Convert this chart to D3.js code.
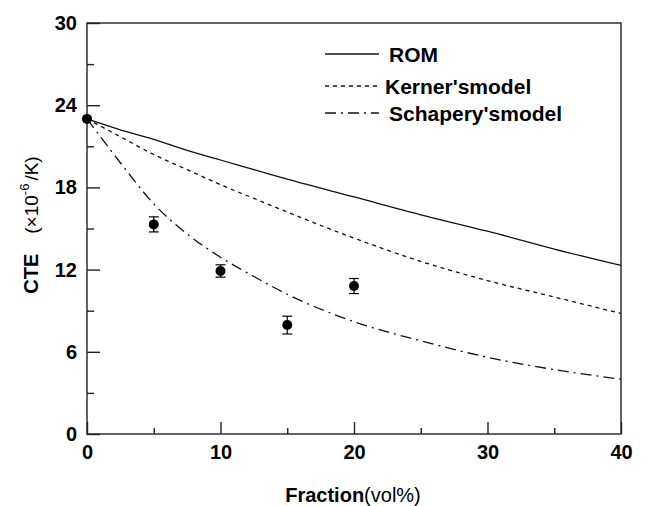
<!DOCTYPE html>
<html>
<head>
<meta charset="utf-8">
<script src="https://cdn.jsdelivr.net/npm/d3@7"></script>
<style>
  body { margin: 0; background: #fff; }
  text { font-family: "Liberation Sans", Arial, sans-serif; fill: #000; }
</style>
</head>
<body>
<div id="chart"></div>
<script>
// fraction (vol%) where model curves were read
var fracModel = [0, 2.5, 5, 7.5, 10, 12.5, 15, 20, 25, 30, 35, 40];
var romCTE      = [23, 22.2, 21.5, 20.7, 20.0, 19.3, 18.6, 17.3, 16.0, 14.8, 13.5, 12.3];
var kernerCTE   = [23, 21.7, 20.4, 19.3, 18.2, 17.2, 16.2, 14.3, 12.6, 11.2, 10.0, 8.8];
var schaperyCTE = [23, 19.8, 16.8, 14.6, 12.9, 11.5, 10.2, 8.2, 6.8, 5.6, 4.7, 4.0];

// measured points
var fracExp = [0, 5, 10, 15, 20];
var cteExp  = [23, 15.3, 11.9, 7.95, 10.8];
var errExp  = [0, 0.55, 0.45, 0.65, 0.55];

var xTicks = [0, 10, 20, 30, 40];
var yTicks = [0, 6, 12, 18, 24, 30];

var svgWidth = 646, svgHeight = 506;
var margin = { top: 23, right: 25, bottom: 72, left: 87 };
var width = svgWidth - margin.left - margin.right;
var height = svgHeight - margin.top - margin.bottom;

var svg = d3.select("#chart").append("svg")
  .attr("width", svgWidth)
  .attr("height", svgHeight);

var g = svg.append("g")
  .attr("transform", `translate(${margin.left}, ${margin.top})`);

var x = d3.scaleLinear().domain([0, 40]).range([0, width]);
var y = d3.scaleLinear().domain([0, 30]).range([height, 0]);

// frame
g.append("rect")
  .attr("width", width).attr("height", height)
  .attr("fill", "none").attr("stroke", "#222").attr("stroke-width", 1.4);

// bottom axis, ticks pointing inward
var bottomAxis = d3.axisBottom(x).tickValues(xTicks).tickSize(-12).tickFormat(d3.format("d"));
var xAxisG = g.append("g").attr("transform", `translate(0, ${height})`).call(bottomAxis);
xAxisG.select(".domain").remove();
g.append("g").attr("transform", `translate(0, ${height})`)
  .call(d3.axisBottom(x).tickValues([5, 15, 25, 35]).tickSize(-6).tickFormat(""))
  .select(".domain").remove();

var leftAxis = d3.axisLeft(y).tickValues(yTicks).tickSize(-13).tickPadding(10).tickFormat(d3.format("d"));
var yAxisG = g.append("g").call(leftAxis);
yAxisG.select(".domain").remove();
g.append("g")
  .call(d3.axisLeft(y).tickValues([3, 9, 15, 21, 27]).tickSize(-7).tickFormat(""))
  .select(".domain").remove();

g.selectAll(".tick line").attr("stroke", "#222").attr("stroke-width", 1.4);
g.selectAll(".tick text")
  .style("font-family", "'Liberation Sans', Arial, sans-serif")
  .style("font-size", "20px").style("font-weight", "bold").attr("fill", "#000");
xAxisG.selectAll(".tick text").attr("dy", "0.35em").attr("y", 18);

// curves
var line = d3.line()
  .x(d => x(d[0]))
  .y(d => y(d[1]))
  .curve(d3.curveMonotoneX);

var series = [
  { name: "ROM", vals: romCTE, dash: null },
  { name: "Kerner'smodel", vals: kernerCTE, dash: "4,4" },
  { name: "Schapery'smodel", vals: schaperyCTE, dash: "11,5,2,5" }
];

series.forEach(function(s) {
  g.append("path")
    .datum(fracModel.map((f, i) => [f, s.vals[i]]))
    .attr("d", line)
    .attr("fill", "none")
    .attr("stroke", "#111")
    .attr("stroke-width", 1.3)
    .attr("stroke-dasharray", s.dash);
});

// experimental points with error bars
var pts = fracExp.map((f, i) => ({ f: f, v: cteExp[i], e: errExp[i] }));
var pg = g.selectAll(".pt").data(pts).enter().append("g").attr("class", "pt");
pg.filter(d => d.e > 0).append("line")
  .attr("x1", d => x(d.f)).attr("x2", d => x(d.f))
  .attr("y1", d => y(d.v + d.e)).attr("y2", d => y(d.v - d.e))
  .attr("stroke", "#000").attr("stroke-width", 1.2);
[1, -1].forEach(function(sgn) {
  pg.filter(d => d.e > 0).append("line")
    .attr("x1", d => x(d.f) - 5).attr("x2", d => x(d.f) + 5)
    .attr("y1", d => y(d.v + sgn * d.e)).attr("y2", d => y(d.v + sgn * d.e))
    .attr("stroke", "#000").attr("stroke-width", 1.2);
});
pg.append("circle")
  .attr("cx", d => x(d.f)).attr("cy", d => y(d.v))
  .attr("r", 5).attr("fill", "#000");

// legend
var legendY = [54, 86, 113];
var legendTextX = [389, 385, 389];
series.forEach(function(s, i) {
  svg.append("line")
    .attr("x1", 325).attr("x2", 379)
    .attr("y1", legendY[i]).attr("y2", legendY[i])
    .attr("stroke", "#111").attr("stroke-width", 1.3)
    .attr("stroke-dasharray", s.dash);
  svg.append("text")
    .attr("x", legendTextX[i]).attr("y", legendY[i])
    .attr("dy", "0.36em")
    .style("font-size", "21px").style("font-weight", "bold")
    .text(s.name);
});

// axis titles
var xt = svg.append("text")
  .attr("x", 353).attr("y", 502)
  .attr("text-anchor", "middle")
  .style("font-size", "20px");
xt.append("tspan").style("font-weight", "bold").text("Fraction");
xt.append("tspan").text("(vol%)");

var yt = svg.append("text")
  .attr("transform", "translate(38, 225) rotate(-90)")
  .attr("text-anchor", "middle")
  .style("font-size", "20px");
yt.append("tspan").style("font-weight", "bold").text("CTE");
yt.append("tspan").attr("dx", 20).style("font-size", "19px").text("(×10");
yt.append("tspan").attr("dy", -9).style("font-size", "13px").text("-6");
yt.append("tspan").attr("dy", 9).attr("dx", 3).style("font-size", "19px").text("/K)");
</script>
</body>
</html>
